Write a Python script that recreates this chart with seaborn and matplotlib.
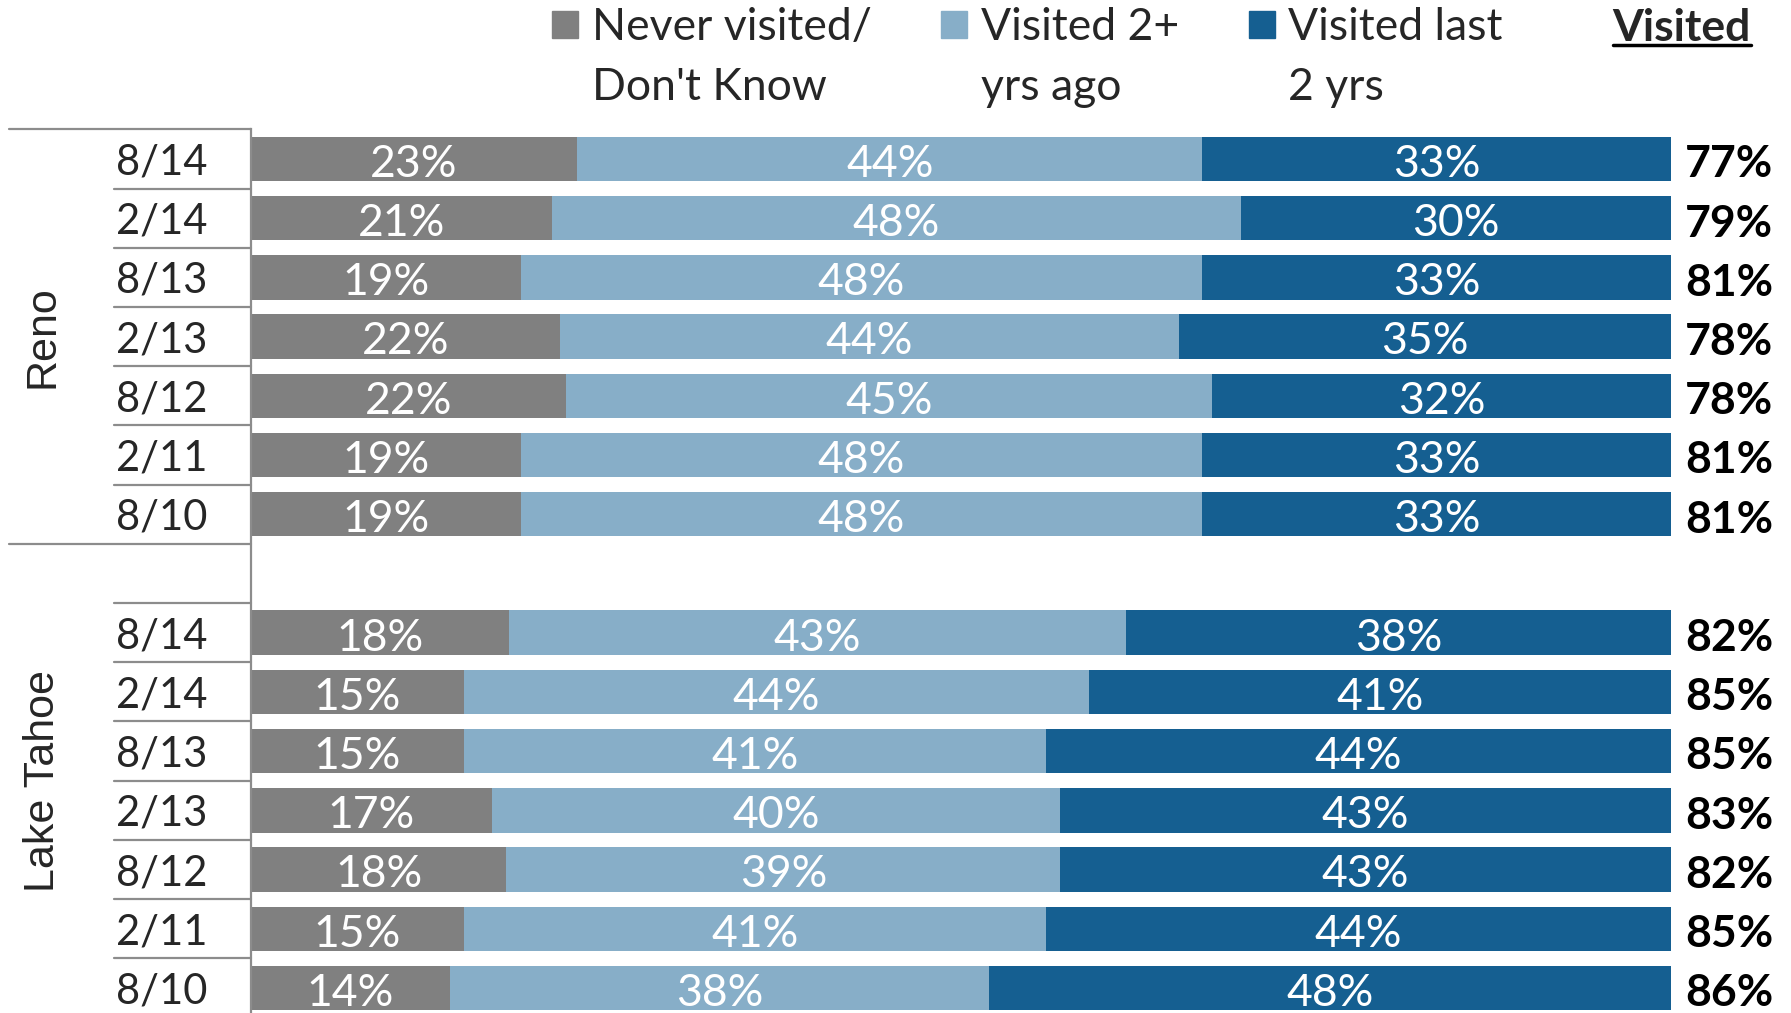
#Import libraries
import pandas as pd
import matplotlib
matplotlib.use("Agg")
import matplotlib.pyplot as plt
import seaborn as sns
from matplotlib.patches import Rectangle
from matplotlib.transforms import blended_transform_factory

#Chart values
waves = ["8/14", "2/14", "8/13", "2/13", "8/12", "2/11", "8/10"]
places = ["Reno", "Lake Tahoe"]

reno_never = [23, 21, 19, 22, 22, 19, 19]
reno_older = [44, 48, 48, 44, 45, 48, 48]
reno_recent = [33, 30, 33, 35, 32, 33, 33]
reno_visited = [77, 79, 81, 78, 78, 81, 81]

tahoe_never = [18, 15, 15, 17, 18, 15, 14]
tahoe_older = [43, 44, 41, 40, 39, 41, 38]
tahoe_recent = [38, 41, 44, 43, 43, 44, 48]
tahoe_visited = [82, 85, 85, 83, 82, 85, 86]

legend_labels = [["Never visited/", "Don't Know"], ["Visited 2+", "yrs ago"], ["Visited last", "2 yrs"]]

GRAY = "#808080"
LIGHT = "#87AEC8"
DARK = "#155F91"
LINE = "#8C8C8C"

#Build dataframe, one row per wave, with a blank slot between places
df = pd.DataFrame({
    "place": [places[0]] * 7 + [places[1]] * 7,
    "wave": waves * 2,
    "never": reno_never + tahoe_never,
    "older": reno_older + tahoe_older,
    "recent": reno_recent + tahoe_recent,
    "visited": reno_visited + tahoe_visited,
})
df["pos"] = list(range(0, 7)) + list(range(8, 15))
total = df[["never", "older", "recent"]].sum(axis=1)
df["end_never"] = df["never"] / total * 100
df["end_older"] = (df["never"] + df["older"]) / total * 100
df["end_recent"] = (df["never"] + df["older"] + df["recent"]) / total * 100

sns.set_style("white")
plt.rcParams["font.family"] = ["Lato", "DejaVu Sans"]
FS = 32

fig = plt.figure(figsize=(17.91, 10.13), dpi=100)
ax = fig.add_axes([0.140, -0.0045, 0.793, 0.8768])

#Stacked bars: draw the cumulative totals back to front
for col, c in [("end_recent", DARK), ("end_older", LIGHT), ("end_never", GRAY)]:
    sns.barplot(data=df, x=col, y="pos", orient="y", native_scale=True,
                color=c, saturation=1, width=0.75, errorbar=None,
                linewidth=0, ax=ax)

ax.set_xlim(0, 100)
ax.set_ylim(14.5, -0.5)
ax.set_xticks([])
ax.set_yticks(df["pos"], labels=df["wave"])
ax.tick_params(axis="y", length=0, pad=31, labelsize=30)
ax.set_xlabel("")
ax.set_ylabel("")
for s in ["top", "right", "bottom"]:
    ax.spines[s].set_visible(False)
ax.spines["left"].set_color(LINE)
ax.spines["left"].set_linewidth(1.6)

#Segment labels and the visited totals
dy = 0.09
for _, r in df.iterrows():
    y = r["pos"] + dy
    ax.text(r["end_never"] / 2, y, f"{r['never']}%", color="white",
            ha="center", va="center", fontsize=FS)
    ax.text((r["end_never"] + r["end_older"]) / 2, y, f"{r['older']}%",
            color="white", ha="center", va="center", fontsize=FS)
    ax.text((r["end_older"] + r["end_recent"]) / 2, y, f"{r['recent']}%",
            color="white", ha="center", va="center", fontsize=FS)
    ax.text(104.1, y, f"{r['visited']}%", color="black", ha="center",
            va="center", fontsize=FS, fontweight="bold", clip_on=False)

#Category axis lines on the left
trans = blended_transform_factory(ax.transAxes, ax.transData)
for y in [-0.5, 6.5]:
    ax.plot([-0.1704, 0], [y, y], color=LINE, lw=1.6, transform=trans, clip_on=False)
for y in [0.5, 1.5, 2.5, 3.5, 4.5, 5.5, 7.5, 8.5, 9.5, 10.5, 11.5, 12.5, 13.5]:
    ax.plot([-0.0965, 0], [y, y], color=LINE, lw=1.6, transform=trans, clip_on=False)

ax.text(-0.1465, 3, places[0], rotation=90, ha="center", va="center",
        fontsize=31, family="Liberation Sans", transform=trans)
ax.text(-0.1465, 10.5, places[1], rotation=90, ha="center", va="center",
        fontsize=31, family="Liberation Sans", transform=trans)

#Legend drawn by hand so the squares sit on the first line
W, H = 1791, 1013
for (sx, tx), c, lab in zip([(552, 592), (941, 981), (1249, 1288)],
                            [GRAY, LIGHT, DARK], legend_labels):
    fig.add_artist(Rectangle((sx / W, 1 - 38 / H), 26 / W, 27 / H,
                             transform=fig.transFigure, color=c))
    fig.text(tx / W, 1 - 28 / H, lab[0], ha="left", va="center", fontsize=FS)
    fig.text(tx / W, 1 - 88 / H, lab[1], ha="left", va="center", fontsize=FS)

hdr = fig.text(1751 / W, 1 - 28 / H, "Visited", ha="right", va="center",
               fontsize=FS, fontweight="bold")
fig.canvas.draw()
bb = hdr.get_window_extent().transformed(fig.transFigure.inverted())
fig.add_artist(plt.Line2D([bb.x0, bb.x1], [1 - 45 / H, 1 - 45 / H],
                          color="black", lw=2.5, transform=fig.transFigure))

plt.savefig("out.png", dpi=100)
print("File Saved")
